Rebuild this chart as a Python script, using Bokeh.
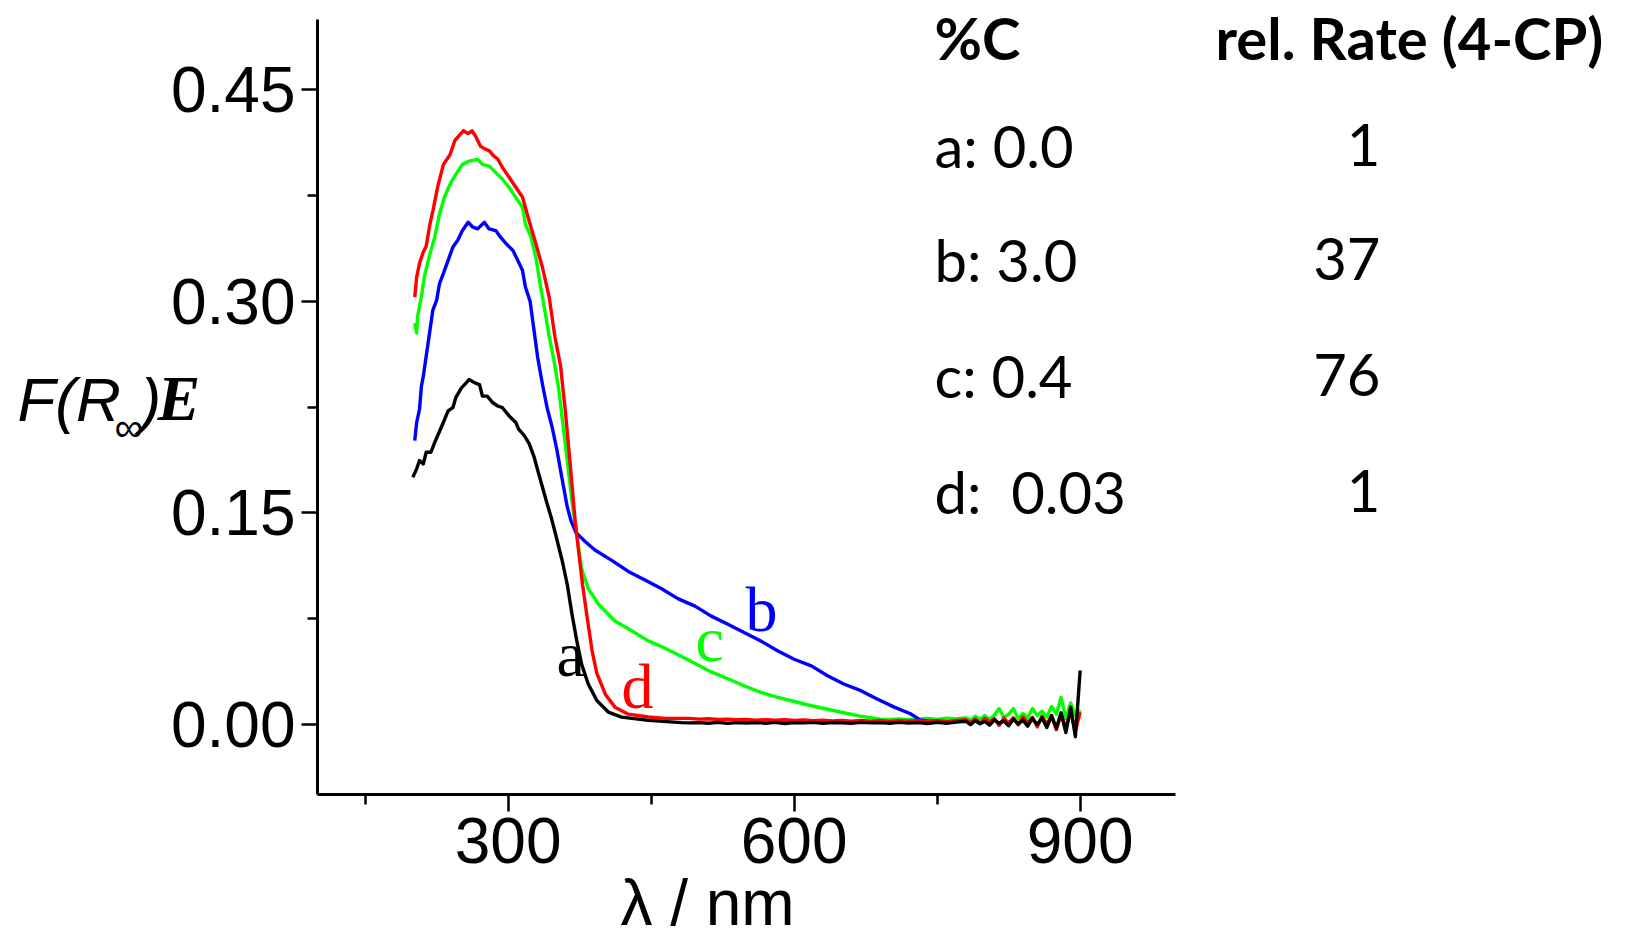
from bokeh.plotting import figure
from bokeh.models import Range1d, Label, FixedTicker, PrintfTickFormatter
from bokeh.embed import file_html
from bokeh.resources import INLINE

# ---------------- data ----------------
# a: 0.0 %C (black)
x_a = [200, 204, 207, 211, 214, 219, 223, 226, 232, 237, 242, 245, 251, 256, 259, 265, 270, 273, 278, 284,
       289, 294, 301, 308, 311, 317, 322, 327, 331, 336, 341, 345, 350, 357, 362, 367, 372, 377, 384, 393,
       405, 419, 447, 482]
y_a = [0.1752, 0.1811, 0.1870, 0.1846, 0.1929, 0.1929, 0.1999, 0.2046, 0.2140, 0.2222, 0.2245, 0.2316, 0.2386,
       0.2421, 0.2445, 0.2421, 0.2409, 0.2327, 0.2327, 0.2280, 0.2257, 0.2245, 0.2187, 0.2140, 0.2093, 0.2046,
       0.1990, 0.1900, 0.1800, 0.1680, 0.1560, 0.1470, 0.1340, 0.1150, 0.0990, 0.0778, 0.0590, 0.0425, 0.0284,
       0.0167, 0.0085, 0.0049, 0.0026, 0.0010]
# b: 3.0 %C (blue)
x_b = [202, 204, 207, 209, 211, 214, 218, 221, 225, 228, 232, 237, 242, 247, 252, 258, 263, 268, 275, 280,
       287, 292, 298, 305, 310, 315, 318, 323, 327, 331, 336, 341, 346, 351, 356, 362, 366, 371, 381, 391,
       409, 426, 444, 461, 478, 496, 513, 531, 548, 565, 583, 600, 618, 635, 652, 670, 687, 705, 722, 732,
       740, 750]
y_b = [0.2011, 0.2140, 0.2234, 0.2398, 0.2469, 0.2610, 0.2797, 0.2938, 0.3009, 0.3126, 0.3197, 0.3290, 0.3385,
       0.3432, 0.3502, 0.3561, 0.3526, 0.3514, 0.3561, 0.3514, 0.3502, 0.3455, 0.3408, 0.3361, 0.3291, 0.3220,
       0.3103, 0.3000, 0.2800, 0.2600, 0.2410, 0.2240, 0.2110, 0.1950, 0.1760, 0.1540, 0.1440, 0.1360, 0.1294,
       0.1235, 0.1160, 0.1083, 0.1020, 0.0960, 0.0890, 0.0837, 0.0766, 0.0707, 0.0648, 0.0590, 0.0519, 0.0460,
       0.0413, 0.0343, 0.0284, 0.0237, 0.0178, 0.0120, 0.0073, 0.0030, 0.0022, 0.0015]
# c: 0.4 %C (green)
x_c = [202, 204, 205, 209, 212, 218, 223, 228, 233, 239, 245, 252, 259, 268, 273, 280, 287, 294, 301, 308,
       315, 318, 324, 329, 334, 339, 343, 348, 353, 357, 362, 367, 372, 377, 384, 395, 412, 430, 447, 464,
       482, 496, 513, 531, 548, 565, 583, 600, 618, 635, 652, 670, 690]
y_c = [0.2845, 0.2775, 0.2892, 0.3033, 0.3174, 0.3338, 0.3455, 0.3620, 0.3737, 0.3831, 0.3901, 0.3972, 0.3995,
       0.4007, 0.3972, 0.3960, 0.3913, 0.3866, 0.3808, 0.3737, 0.3667, 0.3550, 0.3455, 0.3314, 0.3103, 0.2915,
       0.2751, 0.2580, 0.2380, 0.2150, 0.1870, 0.1576, 0.1341, 0.1106, 0.0960, 0.0848, 0.0731, 0.0660, 0.0590,
       0.0540, 0.0480, 0.0430, 0.0370, 0.0320, 0.0270, 0.0225, 0.0190, 0.0160, 0.0130, 0.0105, 0.0080, 0.0055,
       0.0035]
# d: 0.03 %C (red)
x_d = [202, 204, 207, 211, 214, 218, 221, 226, 232, 239, 244, 249, 253, 258, 262, 266, 271, 276, 280, 285,
       289, 294, 301, 308, 315, 322, 329, 336, 343, 349, 355, 360, 365, 370, 374, 378, 383, 388, 393, 402,
       412, 426, 447, 465, 482]
y_d = [0.303, 0.317, 0.327, 0.335, 0.339, 0.355, 0.364, 0.381, 0.397, 0.404, 0.414, 0.418, 0.421, 0.419,
       0.421, 0.417, 0.410, 0.408, 0.407, 0.403, 0.401, 0.395, 0.388, 0.381, 0.374, 0.357, 0.341, 0.324,
       0.303, 0.275, 0.254, 0.222, 0.185, 0.146, 0.122, 0.099, 0.075, 0.052, 0.036, 0.021, 0.012, 0.007,
       0.005, 0.004, 0.004]

# noisy near-zero tails
x_tail1 = list(range(490, 780, 10))
x_tail2 = list(range(780, 905, 5))
x_tail_c1 = list(range(700, 780, 10))
y_tail_a1 = [0.0008, 0.0010, 0.0006, 0.0012, 0.0005, 0.0010, 0.0007, 0.0011, 0.0006, 0.0012, 0.0004, 0.0010,
             0.0008, 0.0012, 0.0005, 0.0011, 0.0009, 0.0006, 0.0012, 0.0008, 0.0010, 0.0005, 0.0012, 0.0007,
             0.0011, 0.0004, 0.0013, 0.0006, 0.0014]
y_tail_a2 = [0.0020, -0.0005, 0.0025, 0.0002, 0.0018, -0.0008, 0.0030, 0.0005, 0.0022, -0.0012, 0.0035, 0.0000,
             0.0028, -0.0015, 0.0040, -0.0005, 0.0045, -0.0025, 0.0060, -0.0030, 0.0080, -0.0060, 0.0120, -0.0090,
             0.0380]
y_tail_d1 = [0.0040, 0.0035, 0.0038, 0.0032, 0.0034, 0.0030, 0.0033, 0.0028, 0.0031, 0.0027, 0.0030, 0.0025,
             0.0029, 0.0024, 0.0027, 0.0022, 0.0026, 0.0020, 0.0025, 0.0021, 0.0024, 0.0019, 0.0023, 0.0020,
             0.0024, 0.0018, 0.0025, 0.0017, 0.0026]
y_tail_d2 = [0.0030, 0.0010, 0.0035, 0.0005, 0.0040, 0.0015, 0.0038, -0.0010, 0.0042, 0.0008, 0.0045, -0.0005,
             0.0050, 0.0010, 0.0048, -0.0020, 0.0055, 0.0000, 0.0060, -0.0040, 0.0070, -0.0030, 0.0090, -0.0050,
             0.0085]
y_tail_c1 = [0.0032, 0.0036, 0.0030, 0.0035, 0.0040, 0.0033, 0.0042, 0.0036]
y_tail_c2 = [0.0045, 0.0030, 0.0055, 0.0035, 0.0060, 0.0030, 0.0065, 0.0110, 0.0045, 0.0070, 0.0110, 0.0040,
             0.0075, 0.0045, 0.0110, 0.0060, 0.0090, 0.0050, 0.0125, 0.0070, 0.0190, 0.0040, 0.0150, 0.0060,
             0.0100]

x_ticks = [300, 600, 900]
x_minor = [150, 450, 750]
y_ticks = [0.00, 0.15, 0.30, 0.45]
y_minor = [0.075, 0.225, 0.375]

table_rows = [("a: 0.0", "1"), ("b: 3.0", "37"), ("c: 0.4", "76"), ("d: \u00a00.03", "1")]
curve_labels = [("a", "black"), ("b", "#0000ff"), ("c", "#00ff00"), ("d", "#ff0000")]

# ---------------- geometry ----------------
W, H = 1612, 945
XA0, XA1, YA0, YA1 = 100, 1000, -0.05, 0.50       # axis extents (data)
AX_L, AX_R, AX_T, AX_B = 317, 1175, 19, 794        # where they sit on the canvas (px)
kx = (AX_R - AX_L) / (XA1 - XA0)
ky = (AX_B - AX_T) / (YA1 - YA0)
x_start = XA0 - AX_L / kx
x_end = XA1 + (W - AX_R) / kx
y_end = YA1 + AX_T / ky
y_start = YA0 - (H - AX_B) / ky


def dx(X):
    return x_start + X / kx


def dy(Y):
    return y_end - Y / ky


p = figure(width=W, height=H, output_backend="svg", toolbar_location=None,
           x_range=Range1d(x_start, x_end), y_range=Range1d(y_start, y_end),
           min_border=0, min_border_left=0, min_border_right=0, min_border_top=0, min_border_bottom=0)
p.title.visible = False
p.outline_line_color = None
p.grid.visible = False

p.xaxis.fixed_location = YA0
p.xaxis.bounds = (XA0, XA1)
p.yaxis.fixed_location = XA0
p.yaxis.bounds = (YA0, YA1)
p.xaxis.ticker = FixedTicker(ticks=x_ticks, minor_ticks=x_minor)
p.yaxis.ticker = FixedTicker(ticks=y_ticks, minor_ticks=y_minor)
p.yaxis.formatter = PrintfTickFormatter(format="%.2f")
for ax in (p.xaxis, p.yaxis):
    ax.axis_line_width = 3
    ax.axis_line_color = "black"
    ax.major_tick_line_width = 2.5
    ax.minor_tick_line_width = 2.5
    ax.major_tick_line_color = "black"
    ax.minor_tick_line_color = "black"
    ax.major_tick_in = 0
    ax.minor_tick_in = 0
    ax.major_label_text_font = "Liberation Sans"
    ax.major_label_text_font_size = "64px"
    ax.major_label_text_color = "black"
p.yaxis.major_tick_out = 16
p.yaxis.minor_tick_out = 10
p.yaxis.major_label_standoff = 6
p.xaxis.major_tick_out = 17
p.xaxis.minor_tick_out = 10
p.xaxis.major_label_standoff = 6

# curves
LW = 3.4
p.line(x_c + x_tail_c1 + x_tail2, y_c + y_tail_c1 + y_tail_c2, line_color="#00ff00", line_width=LW, line_join="round")
p.line(x_b, y_b, line_color="#0000ff", line_width=LW, line_join="round")
p.line(x_d + x_tail1 + x_tail2, y_d + y_tail_d1 + y_tail_d2, line_color="#ff0000", line_width=LW, line_join="round")
p.line(x_a + x_tail1 + x_tail2, y_a + y_tail_a1 + y_tail_a2, line_color="black", line_width=LW, line_join="round")


def add_text(X, Y, text, font, size, color="black", style="normal", align="left"):
    # Y is the wanted glyph baseline on the canvas; Bokeh's alphabetic anchor sits ~0.37 em lower
    Yb = Y - 0.37 * size
    p.add_layout(Label(x=dx(X), y=dy(Yb), text=text, text_font=font, text_font_size=f"{size}px",
                       text_font_style=style, text_color=color, text_baseline="alphabetic",
                       text_align=align))


# curve letters (canvas px anchors: left, baseline)
label_pos = {"a": (556, 678), "b": (745, 633), "c": (695, 663), "d": (621, 710)}
for letter, col in curve_labels:
    X, Y = label_pos[letter]
    add_text(X, Y, letter, "Liberation Serif", 64, color=col)

# axis titles
add_text(707, 926, "\u03bb / nm", "Liberation Sans", 64, align="center")
add_text(17, 422, "F(R", "Liberation Sans", 62, style="italic")
add_text(114, 441, "\u221e", "Liberation Sans", 40)
add_text(140, 422, ")", "Liberation Sans", 62, style="italic")
add_text(157, 422, "E", "Liberation Serif", 64, style="bold italic")

# table on the right
add_text(934, 58, "%C", "Lato", 58, style="bold")
add_text(1215, 58, "rel. Rate (4-CP)", "Lato", 58, style="bold")
row_base = [166, 280, 396, 512]
for (left_txt, right_txt), Yb in zip(table_rows, row_base):
    add_text(934, Yb, left_txt, "Lato", 58)
    add_text(1380, Yb, right_txt, "Lato", 58, align="right")

open("out.html", "w").write(file_html(p, INLINE))
